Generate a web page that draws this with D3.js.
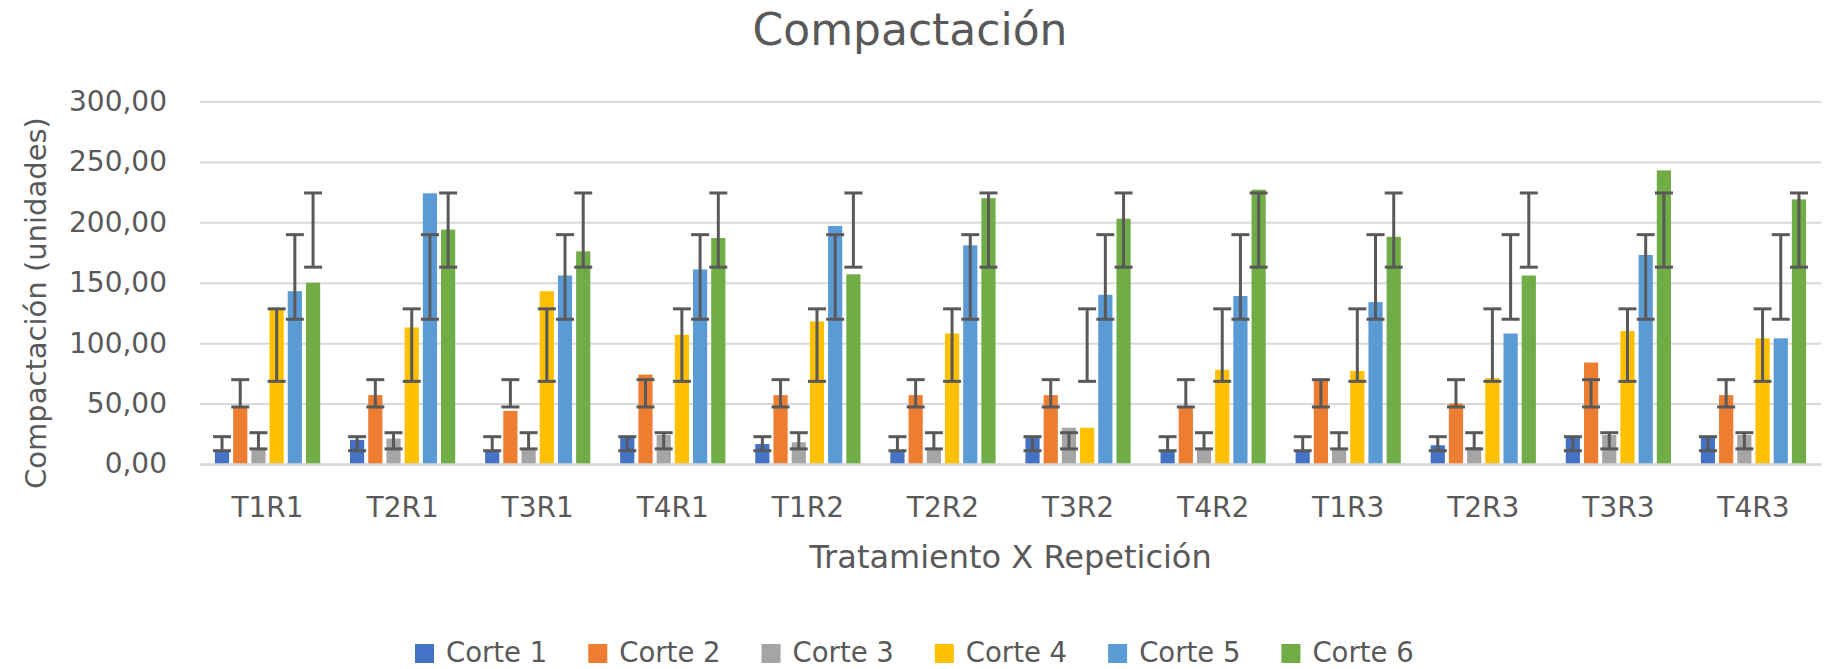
<!DOCTYPE html>
<html>
<head>
<meta charset="utf-8">
<title>Compactación</title>
<script src="https://cdnjs.cloudflare.com/ajax/libs/d3/7.8.5/d3.min.js"></script>
<style>
  body { margin: 0; background: #fff; }
  svg text { font-family: "DejaVu Sans", sans-serif; fill: #595959; }
</style>
</head>
<body>
<div id="chart"></div>
<script>

// categories and series
var categories = ["T1R1", "T2R1", "T3R1", "T4R1", "T1R2", "T2R2", "T3R2", "T4R2", "T1R3", "T2R3", "T3R3", "T4R3"];
var seriesNames = ["Corte 1", "Corte 2", "Corte 3", "Corte 4", "Corte 5", "Corte 6"];
var seriesColors = ["#4472C4", "#ED7D31", "#A5A5A5", "#FFC000", "#5B9BD5", "#70AD47"];

var corte1 = [11, 20, 11, 22.5, 16.5, 11, 22.5, 11, 11, 15.5, 22.5, 22.5];
var corte2 = [47, 57, 44, 74, 57, 57, 57, 47, 70, 50, 84, 57];
var corte3 = [13, 21, 13, 24, 18, 13, 30, 13, 13, 14, 24, 24];
var corte4 = [128, 113, 143, 107, 118, 108, 30, 78, 77, 71, 110, 104];
var corte5 = [143, 224, 156, 161, 197, 181, 140, 139, 134, 108, 173, 104];
var corte6 = [150, 194, 176, 187, 157, 220, 203, 227, 188, 156, 243, 219];

// error bars (excel "standard deviation": drawn around the series mean)
var errCenter = [16.8, 58.5, 19.2, 98.4, 154.8, 193.6];
var errSd = [5.8, 11.3, 6.7, 30, 35, 30.7];

var yTicks = [0, 50, 100, 150, 200, 250, 300];

var seriesValues = [corte1, corte2, corte3, corte4, corte5, corte6];

var width = 1825, height = 669;
var margin = {top: 101.5, right: 4, bottom: 205, left: 200};
var plotW = width - margin.left - margin.right,
    plotH = height - margin.top - margin.bottom;

var locale = d3.formatLocale({decimal: ",", thousands: ".", grouping: [3], currency: ["", ""]});
var fmt = locale.format(".2f");

var svg = d3.select("#chart").append("svg")
    .attr("width", width)
    .attr("height", height);

svg.append("rect").attr("width", width).attr("height", height).attr("fill", "#fff");

var g = svg.append("g")
    .attr("transform", "translate(" + margin.left + "," + margin.top + ")");

var x0 = d3.scaleBand().domain(categories).range([0, plotW]);
var x1 = d3.scaleBand().domain(seriesNames).range([0, x0.bandwidth()])
    .paddingInner(0.22).paddingOuter(0.82);
var y = d3.scaleLinear().domain([0, 300]).range([plotH, 0]);

// gridlines + y labels
var yAxis = g.append("g")
    .call(d3.axisLeft(y).tickValues(yTicks).tickFormat(fmt).tickSize(-plotW).tickPadding(33));
yAxis.select(".domain").remove();
yAxis.selectAll("line").attr("stroke", "#D9D9D9").attr("stroke-width", 2);
yAxis.selectAll("text").style("font-size", "28px").attr("fill", "#595959");

// bars
var rows = [];
seriesValues.forEach(function(vals, s) {
  vals.forEach(function(v, i) {
    rows.push({cat: categories[i], series: seriesNames[s], s: s, value: v});
  });
});

g.selectAll(".bar")
    .data(rows)
    .enter().append("rect")
    .attr("class", "bar")
    .attr("x", function(d) { return x0(d.cat) + x1(d.series); })
    .attr("y", function(d) { return y(d.value); })
    .attr("width", x1.bandwidth())
    .attr("height", function(d) { return plotH - y(d.value); })
    .attr("fill", function(d) { return seriesColors[d.s]; });

// x axis
var xAxis = g.append("g")
    .attr("transform", "translate(0," + plotH + ")")
    .call(d3.axisBottom(x0).tickSize(0).tickPadding(33));
xAxis.select(".domain").attr("stroke", "#D9D9D9").attr("stroke-width", 2.5);
xAxis.selectAll("text").style("font-size", "28px").attr("fill", "#595959");

// error bars
var capW = 18;
var errs = g.selectAll(".err")
    .data(rows)
    .enter().append("g")
    .attr("class", "err")
    .attr("transform", function(d) {
      return "translate(" + (x0(d.cat) + x1(d.series) + x1.bandwidth() / 2) + ",0)";
    })
    .attr("stroke", "#595959")
    .attr("stroke-width", 3);

errs.append("line")
    .attr("y1", function(d) { return y(errCenter[d.s] - errSd[d.s]); })
    .attr("y2", function(d) { return y(errCenter[d.s] + errSd[d.s]); });
errs.append("line")
    .attr("x1", -capW / 2).attr("x2", capW / 2)
    .attr("y1", function(d) { return y(errCenter[d.s] - errSd[d.s]); })
    .attr("y2", function(d) { return y(errCenter[d.s] - errSd[d.s]); });
errs.append("line")
    .attr("x1", -capW / 2).attr("x2", capW / 2)
    .attr("y1", function(d) { return y(errCenter[d.s] + errSd[d.s]); })
    .attr("y2", function(d) { return y(errCenter[d.s] + errSd[d.s]); });

// titles
svg.append("text")
    .attr("x", 910).attr("y", 45)
    .attr("text-anchor", "middle")
    .style("font-size", "44px")
    .text("Compactación");

svg.append("text")
    .attr("x", margin.left + plotW / 2).attr("y", 568)
    .attr("text-anchor", "middle")
    .style("font-size", "32px")
    .text("Tratamiento X Repetición");

svg.append("text")
    .attr("transform", "translate(46,303) rotate(-90)")
    .attr("text-anchor", "middle")
    .style("font-size", "29px")
    .text("Compactación (unidades)");

// legend
var legend = svg.append("g").attr("transform", "translate(415,0)");
var lx = 0;
seriesNames.forEach(function(name, s) {
  var item = legend.append("g").attr("transform", "translate(" + lx + ",0)");
  item.append("rect")
      .attr("x", 0).attr("y", 644)
      .attr("width", 19).attr("height", 19)
      .attr("fill", seriesColors[s]);
  var t = item.append("text")
      .attr("x", 31).attr("y", 662)
      .style("font-size", "27.5px")
      .text(name);
  lx += 31 + t.node().getComputedTextLength() + 41;
});

</script>
</body>
</html>
